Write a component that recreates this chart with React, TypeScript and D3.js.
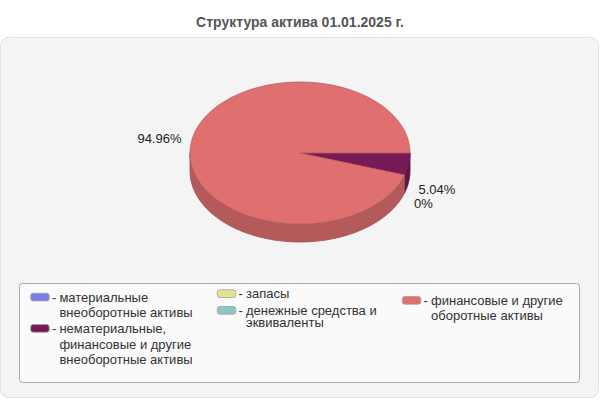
import React from 'react';
import * as d3 from 'd3';

// ---- data ----
const title = 'Структура актива 01.01.2025 г.';
const categories = [
  'материальные внеоборотные активы',
  'нематериальные, финансовые и другие внеоборотные активы',
  'запасы',
  'денежные средства и эквиваленты',
  'финансовые и другие оборотные активы',
];
const legendLines = [
  ['материальные', 'внеоборотные активы'],
  ['нематериальные,', 'финансовые и другие', 'внеоборотные активы'],
  ['запасы'],
  ['денежные средства и', 'эквиваленты'],
  ['финансовые и другие', 'оборотные активы'],
];
const values = [0, 5.04, 0, 0, 94.96];
const colors = ['#7b7bea', '#781a55', '#e4e48c', '#88c8c8', '#e07070'];

// ---- layout ----
const W = 600;
const H = 400;
const cx = 300;
const cy = 153;
const rx = 110;
const ry = 71;
const depth = 18;
const FONT = '"Liberation Sans", Arial, sans-serif';

const legendPos = [
  { x: 30.7, y: 301.7, lh: 15.6 },
  { x: 30.7, y: 333, lh: 15.6 },
  { x: 217.3, y: 298.3, lh: 12 },
  { x: 217.3, y: 315, lh: 12.2 },
  { x: 402.3, y: 305, lh: 15 },
];

export default function App() {
  const pie = d3
    .pie<number>()
    .sort(null)
    .startAngle(Math.PI / 2)
    .endAngle(Math.PI / 2 + 2 * Math.PI);
  const arcs = pie(values);
  const arcGen = d3.arc<any>().innerRadius(0).outerRadius(rx);
  const k = ry / rx;

  // side walls (front half only)
  const wallArea = d3
    .area<number>()
    .x((a) => cx + rx * Math.sin(a))
    .y0((a) => cy - ry * Math.cos(a))
    .y1((a) => cy - ry * Math.cos(a) + depth);

  const walls: { d: string; color: string }[] = [];
  arcs.forEach((a, i) => {
    if (a.value <= 0) return;
    for (let n = 0; n < 2; n++) {
      const f0 = Math.PI / 2 + 2 * Math.PI * n;
      const f1 = (3 * Math.PI) / 2 + 2 * Math.PI * n;
      const b0 = Math.max(a.startAngle, f0);
      const b1 = Math.min(a.endAngle, f1);
      if (b1 > b0) {
        const steps = 80;
        const pts = d3.range(steps + 1).map((s) => b0 + ((b1 - b0) * s) / steps);
        walls.push({ d: wallArea(pts) || '', color: colors[i] });
      }
    }
  });

  // labels
  type Lbl = { x: number; y: number; text: string; anchor: string };
  const labelMap = new Map<string, Lbl>();
  arcs.forEach((a) => {
    const mid = (a.startAngle + a.endAngle) / 2;
    const th = mid - Math.PI / 2;
    const c = Math.cos(th);
    const s = Math.sin(th);
    const text = `${+a.value.toFixed(2)}%`;
    labelMap.set(text, {
      x: cx + (rx + 10) * c,
      y: cy + (ry + 24) * s + (s > 0.01 ? depth + 3 : 0),
      text,
      anchor: c < 0 ? 'end' : 'start',
    });
  });
  const labels = Array.from(labelMap.values());

  return (
    <svg
      width={W}
      height={H}
      style={{ position: 'absolute', left: 0, top: 0, background: '#ffffff' }}
      fontFamily={FONT}
    >
      <text x={300} y={26.5} textAnchor="middle" fontSize={14} fontWeight="bold" fill="#555555">
        {title}
      </text>
      <rect x={0.5} y={37.5} width={598} height={360} rx={8} fill="#f4f4f4" stroke="#e2e2e2" />

      {/* walls */}
      {walls.map((w, i) => (
        <path
          key={'w' + i}
          d={w.d}
          fill={d3.color(w.color)!.darker(0.6).toString()}
          stroke={d3.color(w.color)!.darker(0.9).toString()}
          strokeWidth={0.8}
        />
      ))}
      {/* tops */}
      <g transform={`translate(${cx},${cy}) scale(1,${k})`}>
        {arcs.map((a, i) =>
          a.value > 0 ? (
            <path
              key={'t' + i}
              d={arcGen(a) || ''}
              fill={colors[i]}
              stroke={d3.color(colors[i])!.darker(0.5).toString()}
              strokeWidth={0.8}
              vectorEffect="non-scaling-stroke"
            />
          ) : null
        )}
      </g>

      {labels.map((l, i) => (
        <text
          key={'l' + i}
          x={l.x}
          y={l.y}
          dy="0.35em"
          textAnchor={l.anchor as any}
          fontSize={13}
          fill="#222222"
        >
          {l.text}
        </text>
      ))}

      {/* legend */}
      <rect x={19.5} y={283.5} width={560} height={99} rx={3} fill="#fafafa" stroke="#a8a8a8" />
      {categories.map((c, i) => {
        const p = legendPos[i];
        return (
          <g key={'lg' + i}>
            <rect
              x={p.x}
              y={p.y - 8.5}
              width={18.5}
              height={7.7}
              rx={2.5}
              fill={colors[i]}
              stroke="#a0a0a0"
              strokeWidth={0.8}
            />
            <text x={p.x + 21.3} y={p.y} fontSize={13} fill="#333333">
              -
            </text>
            {legendLines[i].map((line, j) => (
              <text key={j} x={p.x + 28.7} y={p.y + j * p.lh} fontSize={13} fill="#333333">
                {line}
              </text>
            ))}
          </g>
        );
      })}
    </svg>
  );
}
